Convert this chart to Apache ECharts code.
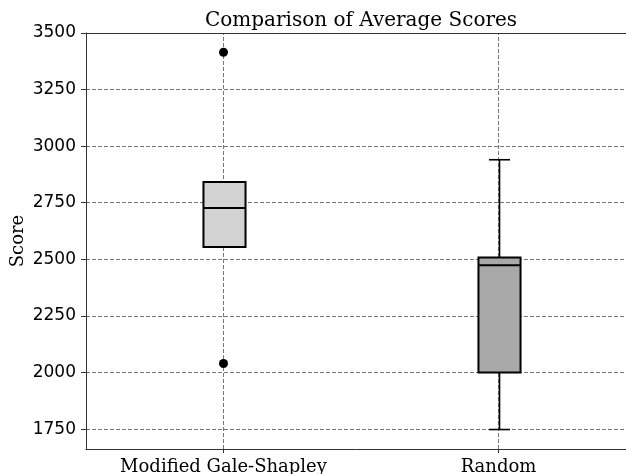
<!DOCTYPE html>
<html>
<head>
<meta charset="utf-8">
<style>html,body{margin:0;padding:0;background:#fff;overflow:hidden}#c{width:626px;height:474px}</style>
<script src="https://cdn.jsdelivr.net/npm/echarts@6/dist/echarts.min.js"></script>
</head>
<body>
<div id="c"></div>
<script>
var categories = ['Modified Gale-Shapley', 'Random'];
var whiskerLow = [2555, 1748];
var q1 = [2555, 2000];
var median = [2727, 2474];
var q3 = [2842, 2508];
var whiskerHigh = [2842, 2940];
var outliers = [[0, 3415], [0, 2040]];
var yTicks = [1750, 2000, 2250, 2500, 2750, 3000, 3250, 3500];
var boxColors = ['#d3d3d3', '#a9a9a9'];

var boxData = categories.map(function (c, i) {
  return [i, whiskerLow[i], q1[i], median[i], q3[i], whiskerHigh[i]];
});

var chart = echarts.init(document.getElementById('c'), null, {renderer: 'canvas'});
var gridStyle = {color: '#777', width: 1, type: [4, 2]};
chart.setOption({
  animation: false,
  graphic: [{
    type: 'text', x: 361, y: 11,
    style: {text: 'Comparison of Average Scores', font: '20px "DejaVu Serif"', fill: '#000', align: 'center', verticalAlign: 'top'}
  }],
  grid: {left: 86, width: 550, top: 33, bottom: 25, containLabel: false, outerBoundsMode: 'none', show: false},
  xAxis: [{
    type: 'category', data: categories, boundaryGap: true,
    axisLine: {lineStyle: {color: '#333', width: 1}},
    axisTick: {show: true, alignWithLabel: true, length: 4, lineStyle: {color: '#333'}},
    axisLabel: {fontFamily: 'DejaVu Serif', fontSize: 18, color: '#000', margin: 9, interval: 0, hideOverlap: false},
    splitLine: {show: false}
  }, {
    type: 'category', data: categories, position: 'top',
    axisLine: {show: true, lineStyle: {color: '#333', width: 1}},
    axisTick: {show: false}, axisLabel: {show: false}, splitLine: {show: false}
  }],
  yAxis: {
    type: 'value', min: 1662, max: 3500,
    name: 'Score', nameLocation: 'middle', nameRotate: 90, nameGap: 59, nameMoveOverlap: false,
    nameTextStyle: {fontFamily: 'DejaVu Serif', fontSize: 18, color: '#000'},
    axisLine: {show: true, lineStyle: {color: '#333', width: 1}},
    axisTick: {show: true, length: 5, customValues: yTicks, lineStyle: {color: '#333'}},
    axisLabel: {fontFamily: 'DejaVu Sans', fontSize: 17, color: '#000', margin: 10, customValues: yTicks,
      formatter: function (v) { return String(v); }},
    splitLine: {show: false}
  },
  series: [
    {
      type: 'line', data: [], z: 0, zlevel: 0, silent: true,
      markLine: {
        silent: true, symbol: 'none', label: {show: false}, animation: false, z: 0,
        lineStyle: gridStyle,
        emphasis: {disabled: true},
        data: yTicks.map(function (v) { return {yAxis: v}; }).concat(
          categories.map(function (c) { return {xAxis: c}; }))
      }
    },
    {
      type: 'custom', z: 10, zlevel: 0,
      data: boxData,
      encode: {x: 0, y: [1, 2, 3, 4, 5]},
      renderItem: function (params, api) {
        var i = api.value(0);
        var lo = api.coord([i, api.value(1)]);
        var b1 = api.coord([i, api.value(2)]);
        var md = api.coord([i, api.value(3)]);
        var b3 = api.coord([i, api.value(4)]);
        var hi = api.coord([i, api.value(5)]);
        var band = api.size([1, 0])[0];
        var bw = band * 0.153;
        var cw = bw / 2;
        var x = Math.round(lo[0]) + 0.5;
        var ls = {stroke: '#000', lineWidth: 1.6};
        var bs = {stroke: '#000', lineWidth: 2};
        return {
          type: 'group',
          children: [
            {type: 'line', shape: {x1: x, y1: lo[1], x2: x, y2: b1[1]}, style: ls},
            {type: 'line', shape: {x1: x, y1: b3[1], x2: x, y2: hi[1]}, style: ls},
            {type: 'line', shape: {x1: x - cw / 2, y1: lo[1], x2: x + cw / 2, y2: lo[1]}, style: ls},
            {type: 'line', shape: {x1: x - cw / 2, y1: hi[1], x2: x + cw / 2, y2: hi[1]}, style: ls},
            {type: 'rect', shape: {x: x - bw / 2, y: b3[1], width: bw, height: b1[1] - b3[1]},
              style: {fill: boxColors[i], stroke: '#000', lineWidth: 2}},
            {type: 'line', shape: {x1: x - bw / 2, y1: md[1], x2: x + bw / 2, y2: md[1]}, style: bs}
          ]
        };
      }
    },
    {
      type: 'scatter', z: 11, data: outliers, symbol: 'circle', symbolSize: 9,
      itemStyle: {color: '#000', opacity: 1}
    }
  ]
});
</script>
</body>
</html>
